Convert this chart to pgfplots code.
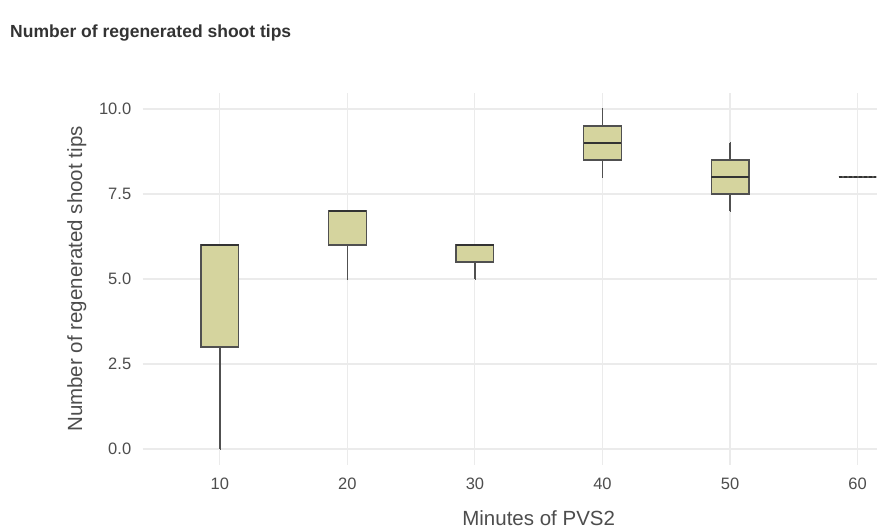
\documentclass[border=0pt]{standalone}
\usepackage{fontspec}
\setmainfont{Liberation Sans}
\usepackage{pgfplots}
\pgfplotsset{compat=1.18}
\usepgfplotslibrary{statistics}
\definecolor{boxfill}{HTML}{D5D49E}
\definecolor{boxline}{HTML}{505050}
\definecolor{medline}{HTML}{333333}
\definecolor{gridc}{HTML}{EBEBEB}
\definecolor{tickc}{HTML}{4D4D4D}
\pgfplotsset{
  /pgfplots/boxplot/every box/.style={fill=boxfill, draw=boxline, line width=1.4bp},
  /pgfplots/boxplot/every whisker/.style={draw=boxline, line width=1.4bp},
  /pgfplots/boxplot/every median/.style={draw=medline, line width=2.4bp},
}
\begin{document}
\begin{tikzpicture}
\path[use as bounding box] (0,0) rectangle (877bp,530bp);
\begin{axis}[
  at={(142.7bp,65bp)}, anchor=south west,
  scale only axis, width=792bp, height=372bp,
  xmin=3.95, xmax=66.05, ymin=-0.47, ymax=10.47,
  axis line style={draw=none}, tick style={draw=none},
  grid=major, major grid style={draw=gridc, line width=1.1bp},
  xtick={10,20,30,40,50,60}, ytick={0,2.5,5,7.5,10},
  yticklabel style={/pgf/number format/fixed, /pgf/number format/fixed zerofill, /pgf/number format/precision=1, xshift=-8bp},
  /pgf/number format/assume math mode=true,
  ticklabel style={font=\fontsize{16.5bp}{19bp}\selectfont, text=tickc},
  xticklabel style={yshift=-9bp},
  label style={font=\fontsize{20.5bp}{24bp}\selectfont, text=tickc},
  xlabel={Minutes of PVS2},
  ylabel={Number of regenerated shoot tips},
  xlabel style={at={(axis description cs:0.5,-0.1613)}, anchor=base},
  ylabel style={at={(axis description cs:-0.0766,0.5)}, anchor=base},
  boxplot/draw direction=y,
]
\addplot+[boxplot prepared={draw position=10, box extend=2.95, whisker extend=0.01, lower whisker=0, lower quartile=3, median=6, upper quartile=6, upper whisker=6}, fill=boxfill, draw=boxline, line width=1.4bp] coordinates {};
\addplot+[boxplot prepared={draw position=20, box extend=2.95, whisker extend=0.01, lower whisker=5, lower quartile=6, median=7, upper quartile=7, upper whisker=7}, fill=boxfill, draw=boxline, line width=1.4bp] coordinates {};
\addplot+[boxplot prepared={draw position=30, box extend=2.95, whisker extend=0.01, lower whisker=5, lower quartile=5.5, median=6, upper quartile=6, upper whisker=6}, fill=boxfill, draw=boxline, line width=1.4bp] coordinates {};
\addplot+[boxplot prepared={draw position=40, box extend=2.95, whisker extend=0.01, lower whisker=8, lower quartile=8.5, median=9, upper quartile=9.5, upper whisker=10}, fill=boxfill, draw=boxline, line width=1.4bp] coordinates {};
\addplot+[boxplot prepared={draw position=50, box extend=2.95, whisker extend=0.01, lower whisker=7, lower quartile=7.5, median=8, upper quartile=8.5, upper whisker=9}, fill=boxfill, draw=boxline, line width=1.4bp] coordinates {};
\addplot+[boxplot prepared={draw position=60, box extend=2.95, whisker extend=0.01, lower whisker=8, lower quartile=8, median=8, upper quartile=8, upper whisker=8}, fill=boxfill, draw=boxline, line width=1.4bp] coordinates {};
\end{axis}
\node[anchor=base west, inner sep=0pt, text=medline, font=\bfseries\fontsize{17.5bp}{20bp}\selectfont] at (10bp,492.3bp) {Number of regenerated shoot tips};
\end{tikzpicture}
\end{document}
